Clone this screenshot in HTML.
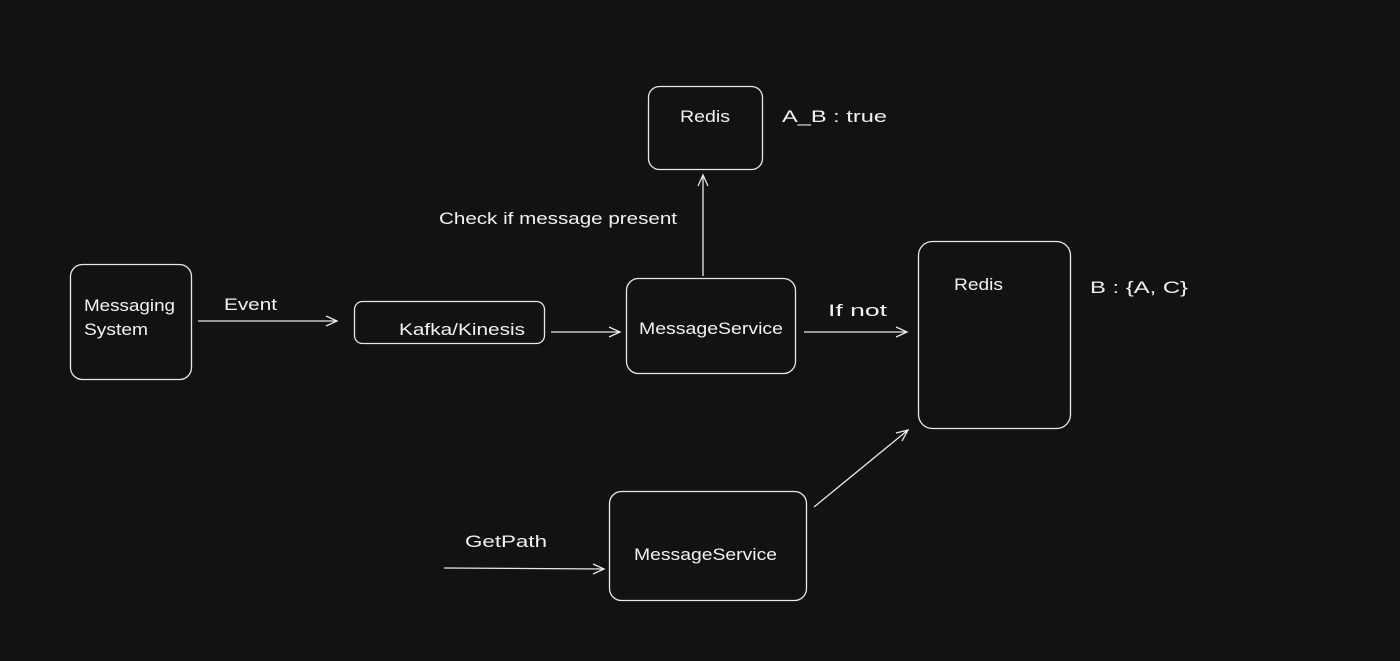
<!DOCTYPE html>
<html><head><meta charset="utf-8"><style>
html,body{margin:0;padding:0;background:#121212;}
svg{display:block}
text{font-family:"Liberation Sans",sans-serif;fill:#f2f2f2;font-size:17px;}
</style></head><body>
<svg width="1400" height="661" viewBox="0 0 1400 661">
<rect width="1400" height="661" fill="#121212"/>
<g fill="none" stroke="#e8e8e8" stroke-width="1.3">
<rect x="70.5" y="264.5" width="121" height="115" rx="12"/>
<rect x="354.5" y="301.5" width="190" height="42" rx="8"/>
<rect x="626.5" y="278.5" width="169" height="95" rx="12"/>
<rect x="648.5" y="86.5" width="114" height="83" rx="11"/>
<rect x="918.5" y="241.5" width="152" height="187" rx="14"/>
<rect x="609.5" y="491.5" width="197" height="109" rx="12"/>
<path d="M198 321 L337 321 M326 316 L337 321 L326 326"/>
<path d="M551 332 L620 332 M609 327 L620 332 L609 337"/>
<path d="M703 276 L703 175 M698 186 L703 175 L708 186"/>
<path d="M804 332 L907 332 M896 327 L907 332 L896 337"/>
<path d="M814 507 L908 430 M896 433 L908 430 L902 441"/>
<path d="M444 568 L604 569 M593 564 L604 569 L593 574"/>
</g>
<g lengthAdjust="spacingAndGlyphs">
<text x="84" y="311" textLength="91" lengthAdjust="spacingAndGlyphs">Messaging</text>
<text x="84" y="335" textLength="64" lengthAdjust="spacingAndGlyphs">System</text>
<text x="224" y="310" textLength="53" lengthAdjust="spacingAndGlyphs">Event</text>
<text x="399" y="335" textLength="126" lengthAdjust="spacingAndGlyphs">Kafka/Kinesis</text>
<text x="639" y="334" textLength="144" lengthAdjust="spacingAndGlyphs">MessageService</text>
<text x="680" y="122" textLength="50" lengthAdjust="spacingAndGlyphs">Redis</text>
<text x="782" y="122" textLength="105" lengthAdjust="spacingAndGlyphs">A_B : true</text>
<text x="439" y="224" textLength="238" lengthAdjust="spacingAndGlyphs">Check if message present</text>
<text x="828" y="316" textLength="59" lengthAdjust="spacingAndGlyphs">If not</text>
<text x="954" y="290" textLength="49" lengthAdjust="spacingAndGlyphs">Redis</text>
<text x="1090" y="293" textLength="98" lengthAdjust="spacingAndGlyphs">B : {A, C}</text>
<text x="465" y="547" textLength="82" lengthAdjust="spacingAndGlyphs">GetPath</text>
<text x="634" y="560" textLength="143" lengthAdjust="spacingAndGlyphs">MessageService</text>
</g>
</svg>
</body></html>
